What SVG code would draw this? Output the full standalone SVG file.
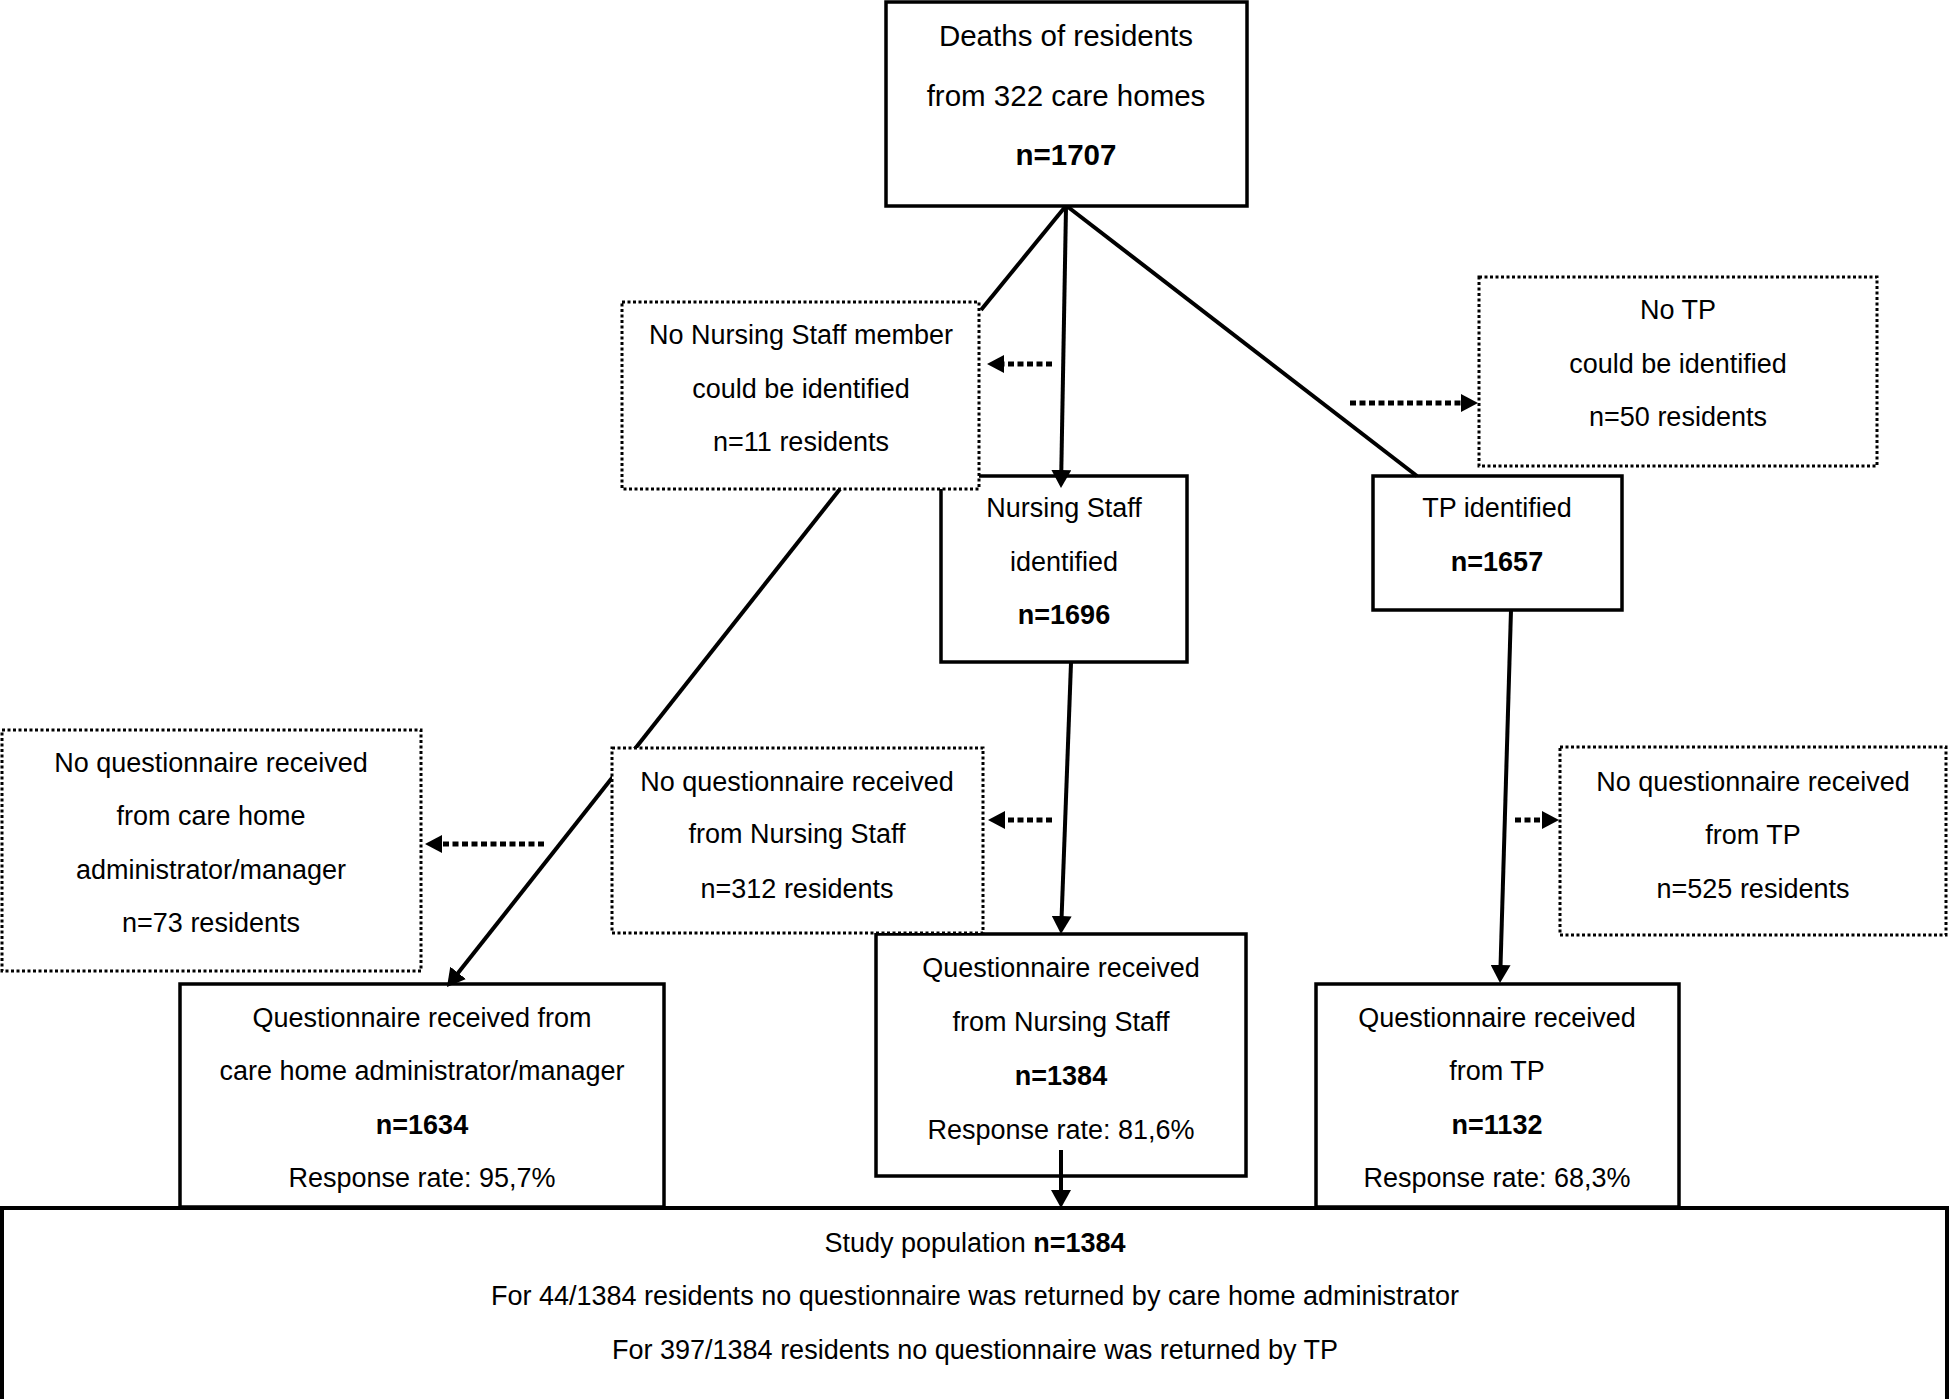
<svg xmlns="http://www.w3.org/2000/svg" width="1949" height="1399" viewBox="0 0 1949 1399">
<style>
text{font-family:"Liberation Sans",Arial,sans-serif;font-size:27px;fill:#000;text-anchor:middle}
.b{font-weight:bold}
.big{font-size:29.5px}
.solid{fill:#fff;stroke:#000;stroke-width:3.5}
.dot{fill:#fff;stroke:#000;stroke-width:3;stroke-dasharray:3 2.5}
.ln{fill:none;stroke:#000;stroke-width:4}
.dl{fill:none;stroke:#000;stroke-width:5;stroke-dasharray:6 3.5}
</style>
<defs>
<marker id="ah" viewBox="0 0 18 20" refX="12" refY="10" markerWidth="18" markerHeight="20" markerUnits="userSpaceOnUse" orient="auto"><path d="M0,0 L18,10 L0,20 z" fill="#000"/></marker>
<marker id="ahs" viewBox="0 0 17 18" refX="11" refY="9" markerWidth="17" markerHeight="18" markerUnits="userSpaceOnUse" orient="auto"><path d="M0,0 L17,9 L0,18 z" fill="#000"/></marker>
</defs>
<rect width="1949" height="1399" fill="#fff"/>

<g id="study">
<rect class="solid" x="2" y="1208" width="1945" height="1189" style="stroke-width:4"/>
<text x="975" y="1252">Study population <tspan class="b">n=1384</tspan></text>
<text x="975" y="1305">For 44/1384 residents no questionnaire was returned by care home administrator</text>
<text x="975" y="1359">For 397/1384 residents no questionnaire was returned by TP</text>
</g>

<g id="deaths">
<rect class="solid" x="886" y="2" width="361" height="204"/>
<text x="1066" y="46" class="big">Deaths of residents</text>
<text x="1066" y="106" class="big">from 322 care homes</text>
<text x="1066" y="165" class="big b">n=1707</text>
</g>

<g id="ns-identified">
<rect class="solid" x="941" y="476" width="246" height="186"/>
<text x="1064" y="517">Nursing Staff</text>
<text x="1064" y="571">identified</text>
<text x="1064" y="624" class="b">n=1696</text>
</g>

<g id="tp-identified">
<rect class="solid" x="1373" y="476" width="249" height="134"/>
<text x="1497" y="517">TP identified</text>
<text x="1497" y="571" class="b">n=1657</text>
</g>

<g id="q-admin">
<rect class="solid" x="180" y="984" width="484" height="223"/>
<text x="422" y="1027">Questionnaire received from</text>
<text x="422" y="1080">care home administrator/manager</text>
<text x="422" y="1134" class="b">n=1634</text>
<text x="422" y="1187">Response rate: 95,7%</text>
</g>

<g id="q-ns">
<rect class="solid" x="876" y="934" width="370" height="242"/>
<text x="1061" y="977">Questionnaire received</text>
<text x="1061" y="1031">from Nursing Staff</text>
<text x="1061" y="1085" class="b">n=1384</text>
<text x="1061" y="1139">Response rate: 81,6%</text>
</g>

<g id="q-tp">
<rect class="solid" x="1316" y="984" width="363" height="223"/>
<text x="1497" y="1027">Questionnaire received</text>
<text x="1497" y="1080">from TP</text>
<text x="1497" y="1134" class="b">n=1132</text>
<text x="1497" y="1187">Response rate: 68,3%</text>
</g>

<g id="connectors">
<line class="ln" x1="1065" y1="207" x2="981" y2="310"/>
<line class="ln" x1="1066" y1="207" x2="1061.1" y2="482" marker-end="url(#ah)"/>
<line class="ln" x1="1068" y1="207" x2="1417" y2="476"/>
<line class="ln" x1="840" y1="489" x2="450.7" y2="982.3" marker-end="url(#ah)"/>
<line class="ln" x1="1071" y1="663" x2="1061.2" y2="928" marker-end="url(#ah)"/>
<line class="ln" x1="1061" y1="1150" x2="1061" y2="1202" marker-end="url(#ah)"/>
<line class="ln" x1="1511" y1="610" x2="1500.2" y2="977" marker-end="url(#ah)"/>
<line class="dl" x1="1052" y1="364" x2="993" y2="364" marker-end="url(#ahs)"/>
<line class="dl" x1="1350" y1="403" x2="1472" y2="403" marker-end="url(#ahs)"/>
<line class="dl" x1="544" y1="844" x2="431" y2="844" marker-end="url(#ahs)"/>
<line class="dl" x1="1052" y1="820" x2="994" y2="820" marker-end="url(#ahs)"/>
<line class="dl" x1="1515" y1="820" x2="1553" y2="820" marker-end="url(#ahs)"/>
</g>

<g id="no-ns">
<rect class="dot" x="622" y="302" width="357" height="187"/>
<text x="801" y="344">No Nursing Staff member</text>
<text x="801" y="398">could be identified</text>
<text x="801" y="451">n=11 residents</text>
</g>

<g id="no-tp">
<rect class="dot" x="1479" y="277" width="398" height="189"/>
<text x="1678" y="319">No TP</text>
<text x="1678" y="373">could be identified</text>
<text x="1678" y="426">n=50 residents</text>
</g>

<g id="no-q-admin">
<rect class="dot" x="2" y="730" width="419" height="241"/>
<text x="211" y="772">No questionnaire received</text>
<text x="211" y="825">from care home</text>
<text x="211" y="879">administrator/manager</text>
<text x="211" y="932">n=73 residents</text>
</g>

<g id="no-q-ns">
<rect class="dot" x="612" y="748" width="371" height="185"/>
<text x="797" y="791">No questionnaire received</text>
<text x="797" y="843">from Nursing Staff</text>
<text x="797" y="898">n=312 residents</text>
</g>

<g id="no-q-tp">
<rect class="dot" x="1560" y="747" width="386" height="188"/>
<text x="1753" y="791">No questionnaire received</text>
<text x="1753" y="844">from TP</text>
<text x="1753" y="898">n=525 residents</text>
</g>
</svg>
